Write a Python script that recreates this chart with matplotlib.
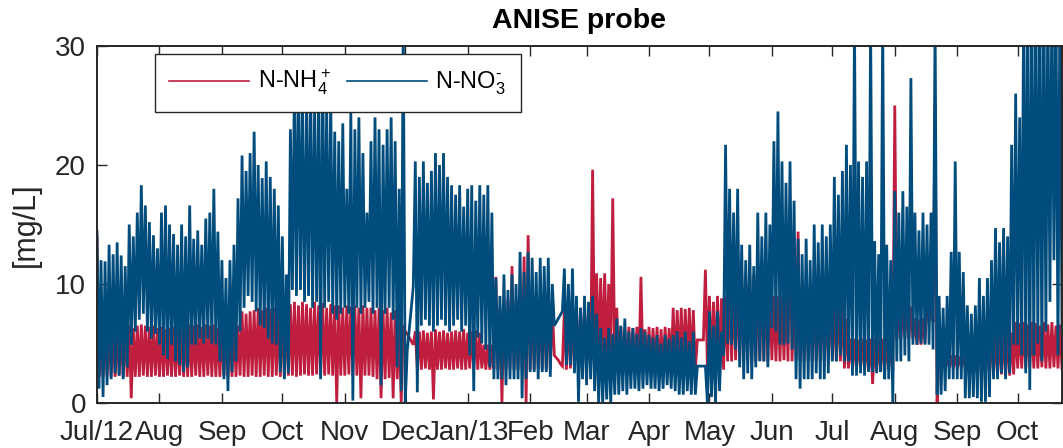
import numpy as np
import matplotlib
matplotlib.use("Agg")
import matplotlib.pyplot as plt
import matplotlib.dates as mdates

plt.rcParams['font.family'] = ['Liberation Sans', 'DejaVu Sans']
plt.rcParams['mathtext.fontset'] = 'custom'
plt.rcParams['mathtext.rm'] = 'Liberation Sans'
plt.rcParams['mathtext.it'] = 'Liberation Sans:italic'
plt.rcParams['mathtext.bf'] = 'Liberation Sans:bold'

# ---------------- data ----------------
START = '2012-07-01'
END = '2013-10-23'
# one daily high / low pair every two days: high at day 2k, low at day 2k+1

no3_hi = [
    14.4, 12.0, 11.9, 13.3, 12.5, 13.5, 12.4, 11.5, 15.0, 14.0,
    16.0, 18.3, 16.6, 15.2, 14.1, 13.0, 16.0, 16.6, 15.0, 14.2,
    13.3, 15.0, 14.0, 16.6, 13.8, 14.5, 13.3, 15.5, 16.0, 18.0,
    14.4, 12.0, 10.5, 12.0, 13.3, 17.2, 20.8, 19.5, 21.0, 22.8,
    20.0, 18.9, 20.3, 19.0, 18.0, 16.6, 14.0, 10.8, 23.0, 27.0,
    28.0, 26.0, 25.0, 28.0, 24.5, 27.0, 29.0, 25.0, 26.0, 22.8,
    22.0, 23.5, 18.0, 24.5, 23.0, 24.0, 21.0, 16.0, 22.0, 24.0,
    23.0, 21.7, 23.0, 24.0, 22.0, 18.0, 32.0, 4.4, 8.0, 20.3,
    19.0, 20.3, 18.5, 19.5, 21.0, 20.0, 21.0, 19.0, 18.3, 17.5,
    18.3, 16.5, 18.0, 18.3, 17.0, 18.3, 17.5, 18.3, 16.0, 10.5,
    9.0, 10.8, 9.5, 10.8, 10.0, 12.7, 11.0, 12.7, 12.2, 11.0,
    12.2, 11.5, 12.2, 10.0, 6.8, 7.4, 11.3, 10.0, 11.3, 9.0,
    8.0, 9.0, 8.5, 9.0, 7.5, 6.3, 5.5, 6.3, 5.8, 7.1,
    6.5, 7.1, 6.0, 6.3, 5.8, 6.3, 6.0, 5.7, 5.5, 5.7,
    5.0, 5.7, 5.4, 5.7, 6.0, 5.5, 6.0, 5.2, 6.0, 3.1,
    3.1, 3.1, 7.7, 6.5, 7.7, 6.0, 21.7, 18.0, 16.0, 18.0,
    13.3, 12.0, 13.3, 11.5, 16.0, 14.0, 16.0, 15.0, 22.0, 24.5,
    20.3, 18.5, 20.3, 17.0, 13.8, 12.5, 13.8, 12.0, 15.0, 13.5,
    15.0, 14.0, 15.0, 19.0, 17.5, 19.5, 21.7, 20.0, 32.0, 20.3,
    19.0, 20.3, 32.0, 13.6, 12.5, 32.0, 13.3, 12.0, 17.8, 16.0,
    17.8, 16.5, 27.3, 16.0, 14.5, 16.0, 15.0, 16.0, 32.0, 9.0,
    8.0, 9.0, 12.7, 20.3, 12.7, 11.0, 8.2, 7.5, 8.2, 10.5,
    9.0, 10.5, 12.0, 14.7, 13.5, 14.7, 14.0, 21.7, 26.0, 24.0,
    35.0, 35.0, 35.0, 35.0, 35.0, 35.0, 35.0, 35.0, 35.0, 35.0,
]

no3_lo = [
    1.2, 0.5, 1.5, 2.0, 2.5, 2.3, 2.0, 3.0, 4.9, 6.0,
    7.0, 7.5, 6.0, 5.4, 5.8, 4.9, 4.0, 3.7, 4.9, 3.5,
    3.2, 2.6, 3.0, 4.9, 4.9, 5.4, 5.0, 5.4, 5.0, 4.9,
    3.5, 2.0, 1.0, 2.6, 3.5, 6.0, 8.0, 9.0, 8.5, 7.7,
    6.5, 6.3, 5.4, 5.0, 4.9, 2.6, 2.0, 2.5, 9.5, 9.0,
    9.5, 8.5, 9.0, 8.0, 8.5, 2.0, 8.0, 8.5, 7.5, 7.0,
    7.5, 8.0, 7.5, 0.2, 8.0, 7.5, 8.0, 8.5, 7.5, 8.0,
    1.5, 7.5, 8.0, 7.0, 3.0, 1.0, 0.0, 6.2, 9.8, 0.9,
    6.5, 7.0, 6.5, 6.0, 6.5, 7.0, 6.5, 6.0, 6.5, 7.0,
    6.0, 6.5, 4.0, 1.0, 5.5, 5.0, 4.5, 3.0, 2.0, 2.0,
    2.0, 1.5, 2.0, 2.0, 2.0, 0.4, 2.0, 2.6, 2.6, 2.0,
    2.6, 2.6, 2.2, 6.5, 7.1, 7.7, 3.2, 3.2, 2.5, 0.1,
    2.0, 1.5, 2.0, 1.0, 0.0, 0.0, 0.3, 0.0, 0.7, 0.7,
    1.0, 0.7, 1.2, 1.2, 1.0, 1.2, 1.5, 1.2, 1.2, 1.0,
    1.2, 1.5, 1.2, 1.0, 0.7, 0.7, 1.0, 0.7, 0.7, 3.1,
    3.1, 0.0, 0.5, 0.0, 1.0, 4.0, 5.0, 4.9, 4.5, 3.0,
    2.0, 2.5, 2.0, 3.0, 3.5, 3.5, 3.0, 6.3, 6.0, 4.9,
    4.9, 5.0, 4.5, 2.0, 1.2, 2.0, 2.0, 2.0, 2.5, 2.0,
    2.0, 2.5, 3.5, 3.5, 4.0, 3.5, 3.5, 2.3, 2.3, 2.5,
    2.3, 2.6, 2.6, 2.5, 2.6, 2.0, 2.0, 0.0, 3.5, 3.5,
    4.0, 3.5, 4.9, 4.9, 5.0, 4.9, 4.9, 4.5, 0.7, 0.7,
    1.0, 2.0, 2.0, 2.0, 2.0, 0.4, 0.4, 0.5, 0.4, 0.1,
    0.1, 0.5, 2.0, 2.0, 2.5, 2.0, 2.5, 4.9, 4.9, 4.0,
    2.5, 1.1, 4.0, 5.0, 3.5, 6.0, 8.5, 12.0, 4.0, 6.0,
]

nh4_hi = [
    14.0, 6.0, 5.8, 6.3, 6.0, 6.3, 6.2, 6.5, 6.5, 6.3,
    6.5, 6.6, 6.5, 6.4, 6.5, 6.3, 6.4, 6.2, 6.3, 6.4,
    6.3, 6.2, 6.5, 6.6, 6.5, 6.6, 6.4, 6.6, 6.5, 6.6,
    6.3, 6.2, 6.3, 6.4, 6.3, 6.5, 7.7, 7.5, 7.7, 7.8,
    8.0, 7.8, 8.0, 7.9, 8.0, 7.8, 8.0, 7.9, 8.3, 8.5,
    8.2, 8.5, 8.3, 8.0, 8.5, 8.2, 8.4, 8.0, 8.3, 8.2,
    8.2, 8.0, 8.2, 8.1, 8.2, 8.0, 8.2, 8.0, 8.0, 7.8,
    8.0, 7.8, 8.0, 7.6, 7.8, 6.8, 6.5, 5.8, 5.2, 6.0,
    6.0, 6.1, 5.9, 6.0, 6.2, 6.0, 6.1, 5.9, 6.0, 6.1,
    6.0, 6.2, 5.9, 6.0, 6.1, 5.9, 4.9, 4.9, 4.9, 10.6,
    8.0, 8.5, 8.7, 11.5, 8.7, 8.5, 12.3, 14.1, 8.5, 8.7,
    8.0, 8.5, 8.7, 8.2, 3.8, 3.3, 8.0, 7.8, 8.0, 7.5,
    8.0, 7.8, 8.0, 19.6, 10.9, 10.5, 10.9, 10.0, 17.2, 8.0,
    6.4, 6.2, 6.4, 6.3, 6.4, 10.6, 6.2, 6.4, 6.3, 6.4,
    6.2, 6.4, 6.3, 8.0, 7.8, 8.0, 7.9, 8.0, 7.8, 5.3,
    5.3, 11.2, 9.0, 8.5, 9.0, 8.8, 9.0, 10.5, 10.0, 10.5,
    11.0, 10.5, 11.0, 10.8, 10.5, 11.0, 10.0, 9.5, 9.0, 9.0,
    9.0, 9.5, 16.4, 9.0, 14.4, 8.5, 9.0, 8.8, 9.0, 8.5,
    9.0, 8.8, 9.0, 8.5, 9.0, 8.5, 7.1, 5.4, 5.4, 5.3,
    5.4, 5.3, 5.4, 5.4, 5.3, 5.4, 5.4, 5.3, 25.0, 8.2,
    8.0, 8.2, 8.1, 7.1, 7.0, 7.1, 9.0, 9.0, 25.0, 4.0,
    4.0, 3.9, 4.0, 4.0, 3.9, 4.0, 4.0, 6.0, 5.9, 6.0,
    6.0, 5.9, 6.0, 6.0, 5.8, 6.0, 6.0, 5.9, 6.8, 6.7,
    6.8, 6.6, 6.8, 6.7, 6.5, 6.8, 6.6, 6.8, 6.5, 6.6,
]

nh4_lo = [
    2.2, 2.2, 2.3, 2.2, 2.2, 2.3, 2.2, 2.2, 0.4, 2.2,
    2.2, 2.3, 2.2, 2.2, 2.3, 2.2, 2.2, 2.3, 2.2, 2.2,
    2.3, 2.2, 2.2, 2.2, 2.3, 2.2, 2.2, 2.3, 2.2, 2.2,
    2.2, 2.3, 2.2, 2.2, 2.2, 2.3, 2.2, 2.2, 2.3, 2.2,
    2.2, 2.3, 2.2, 2.2, 2.3, 2.2, 2.2, 2.3, 2.3, 2.2,
    2.3, 2.4, 2.3, 2.3, 2.4, 2.3, 2.3, 2.4, 2.3, 0.0,
    2.3, 2.3, 2.4, 2.3, 2.3, 0.4, 2.3, 2.3, 2.2, 2.0,
    0.4, 2.0, 2.1, 0.4, 2.0, 0.0, 6.0, 5.5, 4.9, 2.8,
    2.8, 2.9, 2.8, 0.3, 2.8, 2.8, 2.9, 2.8, 2.8, 2.9,
    2.8, 2.8, 2.9, 2.8, 2.8, 2.9, 2.8, 2.8, 2.9, 2.8,
    0.0, 2.8, 2.9, 2.8, 2.8, 2.9, 0.0, 2.8, 2.8, 2.9,
    2.8, 2.8, 2.9, 4.0, 3.6, 3.1, 2.8, 2.9, 2.8, 2.8,
    2.8, 2.9, 2.8, 3.6, 3.5, 3.6, 3.5, 3.6, 3.5, 2.8,
    2.8, 2.9, 2.8, 2.8, 2.9, 2.8, 2.8, 2.9, 2.8, 2.8,
    2.9, 2.8, 2.8, 2.9, 2.8, 2.8, 2.9, 2.8, 2.8, 5.3,
    5.3, 2.8, 2.8, 2.9, 2.8, 2.8, 3.5, 3.5, 3.6, 3.5,
    3.5, 3.6, 3.5, 3.5, 3.6, 3.5, 3.5, 3.6, 3.5, 3.5,
    3.6, 3.5, 3.5, 3.6, 3.5, 3.5, 3.6, 3.5, 3.5, 3.6,
    3.5, 3.5, 3.6, 3.5, 3.5, 2.9, 2.9, 2.9, 2.8, 2.9,
    2.8, 2.7, 1.6, 2.7, 2.7, 2.8, 2.7, 2.7, 5.4, 5.4,
    5.5, 5.4, 5.4, 4.9, 4.9, 5.0, 6.8, 6.8, 0.0, 2.9,
    2.9, 3.0, 2.9, 2.9, 3.0, 2.9, 2.3, 2.3, 2.4, 2.3,
    2.3, 2.4, 2.3, 2.3, 2.4, 2.3, 2.3, 2.4, 2.9, 2.9,
    2.9, 3.0, 2.9, 2.9, 3.0, 2.9, 2.9, 3.0, 2.9, 2.9,
]

tick_dates = ['2012-07-01', '2012-08-01', '2012-09-01', '2012-10-01',
              '2012-11-01', '2012-12-01', '2013-01-01', '2013-02-01',
              '2013-03-01', '2013-04-01', '2013-05-01', '2013-06-01',
              '2013-07-01', '2013-08-01', '2013-09-01', '2013-10-01']
tick_labels = ['Jul/12', 'Aug', 'Sep', 'Oct', 'Nov', 'Dec', 'Jan/13', 'Feb',
               'Mar', 'Apr', 'May', 'Jun', 'Jul', 'Aug', 'Sep', 'Oct']
y_ticks = [0, 10, 20, 30]

series_names = ['N-NH$_4^+$', 'N-NO$_3^{\u2010}$']
RED = '#BF1E3E'
BLUE = '#004C7D'


def build(hi, lo):
    hi = np.asarray(hi, float)
    lo = np.asarray(lo, float)
    v = np.empty(hi.size + lo.size)
    v[0::2] = hi
    v[1::2] = lo
    t0 = mdates.datestr2num(START)
    t = t0 + np.arange(v.size, dtype=float)
    return t, v


t_nh4, v_nh4 = build(nh4_hi, nh4_lo)
t_no3, v_no3 = build(no3_hi, no3_lo)

fig = plt.figure(figsize=(10.63, 4.48), dpi=100)
ax = fig.add_axes([97 / 1063, 1 - 403 / 448, (1062 - 97) / 1063, (403 - 46) / 448])

l1, = ax.plot(t_nh4, v_nh4, color=RED, lw=2.0, label=series_names[0],
              solid_joinstyle='miter')
l2, = ax.plot(t_no3, v_no3, color=BLUE, lw=2.0, label=series_names[1],
              solid_joinstyle='miter')

ax.set_xlim(mdates.datestr2num(START), mdates.datestr2num(END))
ax.set_ylim(0, 30)
ax.set_xticks([mdates.datestr2num(d) for d in tick_dates])
ax.set_xticklabels(tick_labels)
ax.set_yticks(y_ticks)

tc = '#262626'
ax.tick_params(direction='in', top=True, right=True, length=7, width=1.0,
               labelsize=20, colors=tc, pad=8)
ax.tick_params(axis='x', pad=12)
for s in ax.spines.values():
    s.set_linewidth(1.4)
    s.set_color(tc)

ax.set_ylabel('[mg/L]', fontsize=22, color=tc, labelpad=10)
ax.set_title('ANISE probe', fontsize=20.5, fontweight='bold', color='black', pad=13)

leg = ax.legend(handles=[l1, l2], loc='upper left', ncol=2, mode='expand',
                bbox_to_anchor=(0.060, 0.818, 0.379, 0.160), borderaxespad=0,
                fontsize=17, fancybox=False, framealpha=1, edgecolor='#262626',
                handlelength=3.4, handletextpad=0.35, borderpad=0.6,
                columnspacing=0.6)
leg.get_frame().set_linewidth(1.0)
for h in leg.get_lines():
    h.set_linewidth(1.2)
leg.set_zorder(10)

fig.savefig('out.png', dpi=100)
